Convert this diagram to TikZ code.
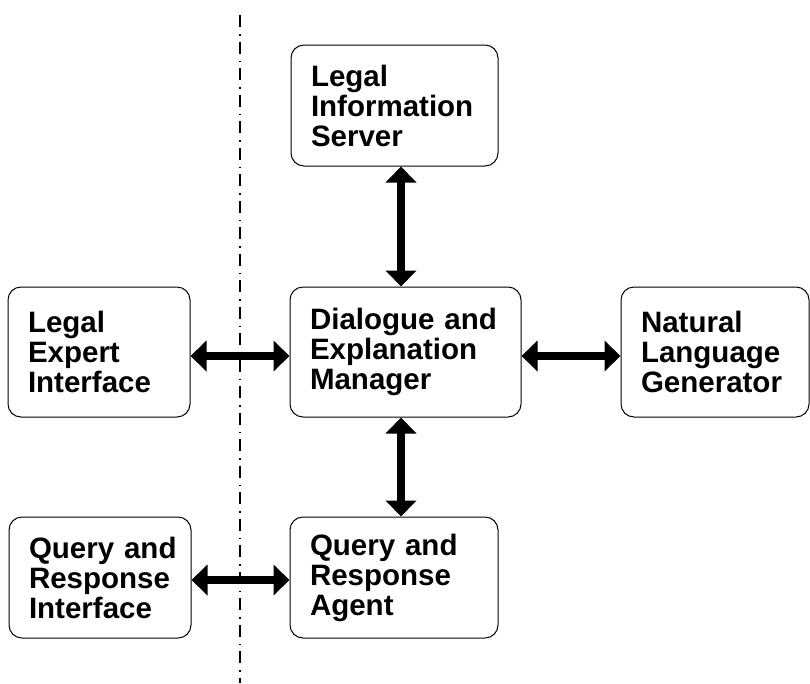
\documentclass[tikz,border=0pt]{standalone}
\usepackage{fontspec}
\setmainfont{Liberation Sans}
\usetikzlibrary{arrows.meta}
\begin{document}
\begin{tikzpicture}[x=1pt,y=-1pt,
  box/.style={draw=black, line width=1pt, rounded corners=13pt, inner xsep=20pt,
    inner ysep=0pt, align=left, font=\fontsize{29.5}{30}\selectfont\bfseries},
  link/.style={line width=7.5pt, {Triangle[length=16pt,width=30pt]}-{Triangle[length=16pt,width=30pt]}},
  divider/.style={line width=1.8pt, dash pattern=on 12pt off 7pt on 1.5pt off 6pt}]
\useasboundingbox (0,0) rectangle (810,683);
\node[box, text width=167pt, minimum height=121pt] (lis) at (394.5,105.5) {Legal\\Information\\Server};
\node[box, text width=191pt, minimum height=130pt] (dem) at (405.5,352) {Dialogue~and\\Explanation\\Manager};
\node[box, text width=142pt, minimum height=130pt] (lei) at (99,352) {Legal\\Expert\\Interface};
\node[box, text width=148pt, minimum height=130pt] (nlg) at (715,352) {Natural\\Language\\Generator};
\node[box, text width=142pt, minimum height=121pt] (qri) at (100,577.5) {Query~and\\Response\\Interface};
\node[box, text width=168pt, minimum height=121pt] (qra) at (394,577.5) {Query~and\\Response\\Agent};
\coordinate (ax) at (401,0);
\coordinate (hy) at (0,356);
\coordinate (qy) at (0,580);
\coordinate (dtop) at (240,15);
\coordinate (dbot) at (240,683);
\draw[divider] (dtop) -- (dbot);
\draw[link] (lis.south -| ax) -- (dem.north -| ax);
\draw[link] (dem.south -| ax) -- (qra.north -| ax);
\draw[link] (lei.east |- hy) -- (dem.west |- hy);
\draw[link] (dem.east |- hy) -- (nlg.west |- hy);
\draw[link] (qri.east |- qy) -- (qra.west |- qy);
\end{tikzpicture}
\end{document}
